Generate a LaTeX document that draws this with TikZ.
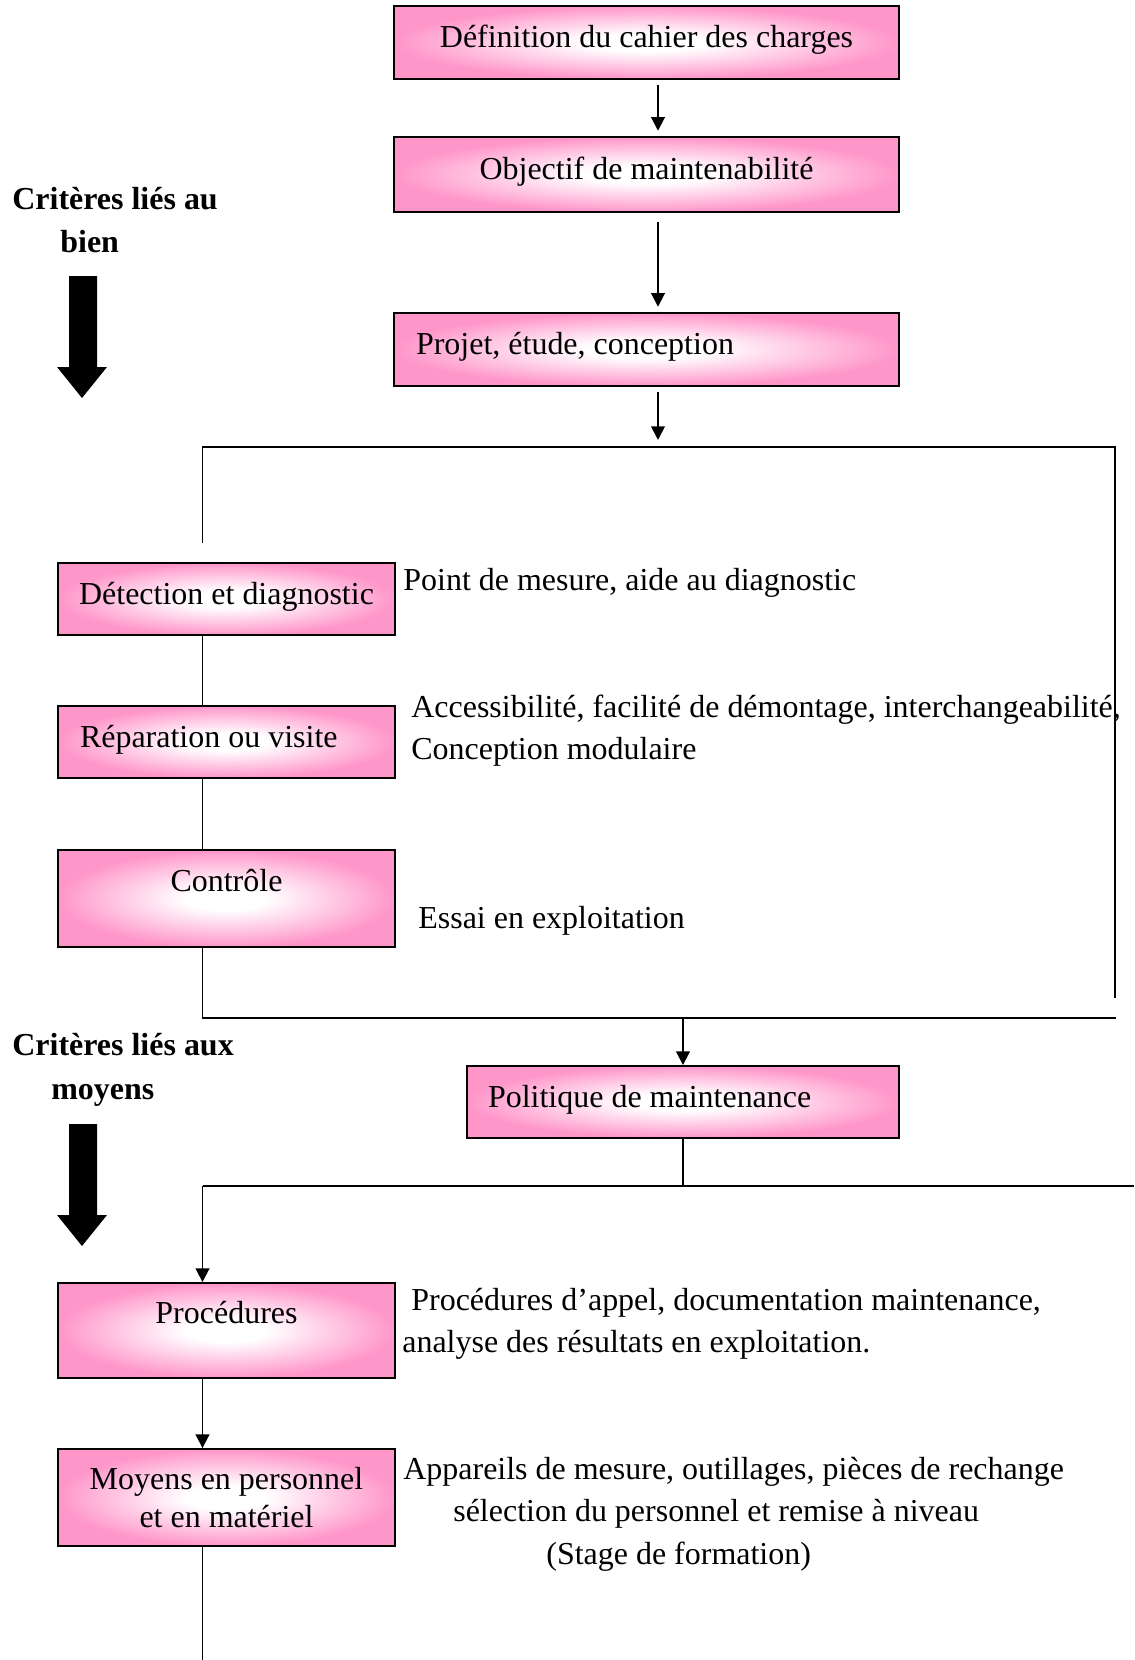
\documentclass[tikz,border=0pt]{standalone}
\usepackage{fontspec}
\setmainfont{Liberation Serif}
\usetikzlibrary{positioning,arrows.meta}

\definecolor{rosebox}{RGB}{255,150,202}
\pgfdeclareradialshading{rose}{\pgfpoint{0bp}{0bp}}{color(0bp)=(white); color(6bp)=(white); color(25bp)=(rosebox); color(50bp)=(rosebox)}

\begin{document}
\begin{tikzpicture}[x=0.02cm, y=-0.02cm,
        font=\fontsize{18.2}{23.8}\selectfont,
        boite/.style={draw, line width=1.1pt, shade, shading=rose, inner sep=0pt,
            minimum width=6.74cm, minimum height=1.44cm,
            text height=12.2pt, text depth=6.5pt},
        texte/.style={anchor=base west, inner sep=0pt},
        titre/.style={texte, font=\fontsize{18.2}{23.8}\selectfont\bfseries},
        trait/.style={line width=1.1pt},
        fleche/.style={trait, -{Triangle[length=7.8pt, width=7.8pt]}}]
        \path[use as bounding box, fill=white] (0,0) rectangle (1134,1660);

        % colonnes des liaisons
        \coordinate (xhaut) at (658,0);
        \coordinate (xgauche) at (202.5,0);

        % etapes du haut
        \node[boite, minimum width=10.1cm, minimum height=1.46cm] (cdc) at (646.5,42.5) {Définition du cahier des charges};
        \node[boite, minimum width=10.1cm, minimum height=1.5cm] (objectif) at (646.5,174.5) {Objectif de maintenabilité};
        \node[boite, minimum width=10.1cm, minimum height=1.46cm, text width=9.22cm, align=flush left] (projet) at (646.5,349.5) {Projet, étude, conception};

        % criteres lies au bien
        \node[titre] (bien1) at (12,209.5) {Critères liés au};
        \node[titre] (bien2) at (60,252) {bien};
        \foreach \y in {276,1124}
            \fill (69,\y) -- (97,\y) -- (97,\y+91) -- (107,\y+91) -- (82,\y+122) -- (57,\y+91) -- (69,\y+91) -- cycle;

        \node[boite] (detection) at (226.5,599) {Détection et diagnostic};
        \node[boite, text width=5.86cm, align=flush left] (reparation) at (226.5,742) {Réparation ou visite};
        \node[boite, minimum height=1.94cm, text depth=20.7pt] (controle) at (226.5,898.5) {Contrôle};

        \node[texte] (mesure) at (403,590) {Point de mesure, aide au diagnostic};
        \node[texte] (acces) at (411,717) {Accessibilité, facilité de démontage, interchangeabilité,};
        \node[texte] (modulaire) at (411,759) {Conception modulaire};
        \node[texte] (essai) at (418,928) {Essai en exploitation};

        % criteres lies aux moyens
        \node[titre] (moyens1) at (12,1055.5) {Critères liés aux};
        \node[titre] (moyens2) at (51,1099) {moyens};

        \node[boite, minimum width=8.64cm, text width=7.8cm, align=flush left] (politique) at (683,1102) {Politique de maintenance};
        \node[boite, minimum height=1.9cm, text depth=20.7pt] (procedures) at (226.5,1330.5) {Procédures};
        \node[boite, minimum height=1.94cm, align=center, text height=, text depth=,
            font=\fontsize{18.2}{21.5}\selectfont] (moyens) at (226.5,1497.5) {Moyens en personnel\\et en matériel};

        \node[texte] (appel) at (411,1310) {Procédures d’appel, documentation maintenance,};
        \node[texte] (analyse) at (402,1352) {analyse des résultats en exploitation.};
        \node[texte] (appareils) at (403,1479) {Appareils de mesure, outillages, pièces de rechange};
        \node[texte] (selection) at (453,1521) {sélection du personnel et remise à niveau};
        \node[texte] (stage) at (546,1564) {(Stage de formation)};

        % cadre autour des criteres lies au bien
        \coordinate (cadreNO) at (202.5,447);
        \coordinate (cadreNE) at (1115,447);
        \coordinate (cadreE) at (1115,998);
        \coordinate (cadreSO) at (202.5,1018);
        \coordinate (cadreSE) at (1116,1018);
        \coordinate (amorce) at (202.5,543);
        \coordinate (repartO) at (202.5,1186);
        \coordinate (repartE) at (1134,1186);
        \coordinate (sortie) at (202.5,1660);

        \draw[fleche, shorten <=3pt, shorten >=3pt] (cdc.south -| xhaut) -- (objectif.north -| xhaut);
        \draw[fleche, shorten <=5pt, shorten >=3pt] (objectif.south -| xhaut) -- (projet.north -| xhaut);
        \draw[fleche, shorten <=3pt, shorten >=4pt] (projet.south -| xhaut) -- (cadreNO -| xhaut);
        \draw[trait] (amorce) -- (cadreNO) -- (cadreNE) -- (cadreE);
        \draw[trait] (detection.south -| xgauche) -- (reparation.north -| xgauche);
        \draw[trait] (reparation.south -| xgauche) -- (controle.north -| xgauche);
        \draw[trait] (controle.south -| xgauche) -- (cadreSO) -- (cadreSE);
        \draw[fleche] (cadreSO -| politique.north) -- (politique.north);
        \draw[trait] (politique.south) -- (politique.south |- repartO);
        \draw[trait] (repartO) -- (repartE);
        \draw[fleche] (repartO) -- (procedures.north -| xgauche);
        \draw[fleche] (procedures.south -| xgauche) -- (moyens.north -| xgauche);
        \draw[trait] (moyens.south -| xgauche) -- (sortie);
    \end{tikzpicture}
\end{document}
